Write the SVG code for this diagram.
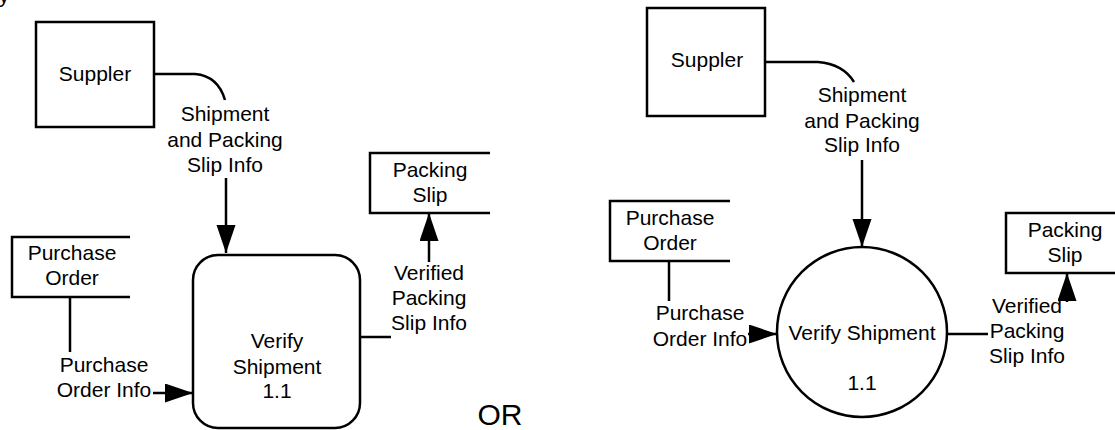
<svg xmlns="http://www.w3.org/2000/svg" width="1115" height="430" viewBox="0 0 1115 430">
<style>
text{font-family:"Liberation Sans",Arial,sans-serif;font-size:21px;fill:#000;text-anchor:middle}
.s{fill:#fff;stroke:#000;stroke-width:2.5}
.l{fill:none;stroke:#000;stroke-width:2.5}
.or{font-size:30px}
</style>
<defs>
<marker id="ah" markerUnits="userSpaceOnUse" markerWidth="30" markerHeight="20" refX="28" refY="9.5" orient="auto">
<path d="M0,0 L28,9.5 L0,19 Z" fill="#000"/>
</marker>
</defs>
<rect width="1115" height="430" fill="#fff"/>
<text x="4" y="3">y</text>

<g id="connectors">
<path class="l" d="M154,74 H195 Q218,76 225,100"/>
<path class="l" d="M226,178 V253" marker-end="url(#ah)"/>
<path class="l" d="M70,297 V352"/>
<path class="l" d="M153,393 H193" marker-end="url(#ah)"/>
<path class="l" d="M360,337 H391"/>
<path class="l" d="M429,262 V213" marker-end="url(#ah)"/>

<path class="l" d="M765,62 H818 Q843,64 854,82"/>
<path class="l" d="M862,160 V247" marker-end="url(#ah)"/>
<path class="l" d="M669,261 V301"/>
<path class="l" d="M748,334 H777" marker-end="url(#ah)"/>
<path class="l" d="M948,334 H988"/>
<path class="l" d="M1067,302 V273" marker-end="url(#ah)"/>

<text x="225" y="121">Shipment</text>
<text x="225" y="147">and Packing</text>
<text x="225" y="172">Slip Info</text>
<text x="104" y="372">Purchase</text>
<text x="104" y="397">Order Info</text>
<text x="429" y="280">Verified</text>
<text x="429" y="305">Packing</text>
<text x="429" y="330">Slip Info</text>

<text x="862" y="102">Shipment</text>
<text x="862" y="128">and Packing</text>
<text x="862" y="152">Slip Info</text>
<text x="700" y="320">Purchase</text>
<text x="700" y="346">Order Info</text>
<text x="1027" y="313">Verified</text>
<text x="1027" y="338">Packing</text>
<text x="1027" y="363">Slip Info</text>
</g>

<g id="supplier1">
<rect class="s" x="36" y="22" width="118" height="105"/>
<text x="95" y="81">Suppler</text>
</g>
<g id="purchase-order1">
<path class="l" d="M130,237 H12 V297 H130"/>
<text x="72" y="260">Purchase</text>
<text x="72" y="285">Order</text>
</g>
<g id="verify1">
<rect class="s" x="193" y="255" width="167" height="173" rx="25"/>
<text x="277" y="348">Verify</text>
<text x="277" y="374">Shipment</text>
<text x="277" y="398">1.1</text>
</g>
<g id="packing-slip1">
<path class="l" d="M490,153 H370 V213 H490"/>
<text x="430" y="177">Packing</text>
<text x="430" y="202">Slip</text>
</g>

<text class="or" x="500" y="425">OR</text>

<g id="supplier2">
<rect class="s" x="647" y="8" width="118" height="108"/>
<text x="707" y="67">Suppler</text>
</g>
<g id="purchase-order2">
<path class="l" d="M730,201 H610 V261 H730"/>
<text x="670" y="225">Purchase</text>
<text x="670" y="250">Order</text>
</g>
<g id="verify2">
<circle class="s" cx="862" cy="332" r="85"/>
<text x="862" y="340">Verify Shipment</text>
<text x="862" y="390">1.1</text>
</g>
<g id="packing-slip2">
<path class="l" d="M1116,213 H1006 V273 H1116"/>
<text x="1065" y="237">Packing</text>
<text x="1065" y="262">Slip</text>
</g>
</svg>
